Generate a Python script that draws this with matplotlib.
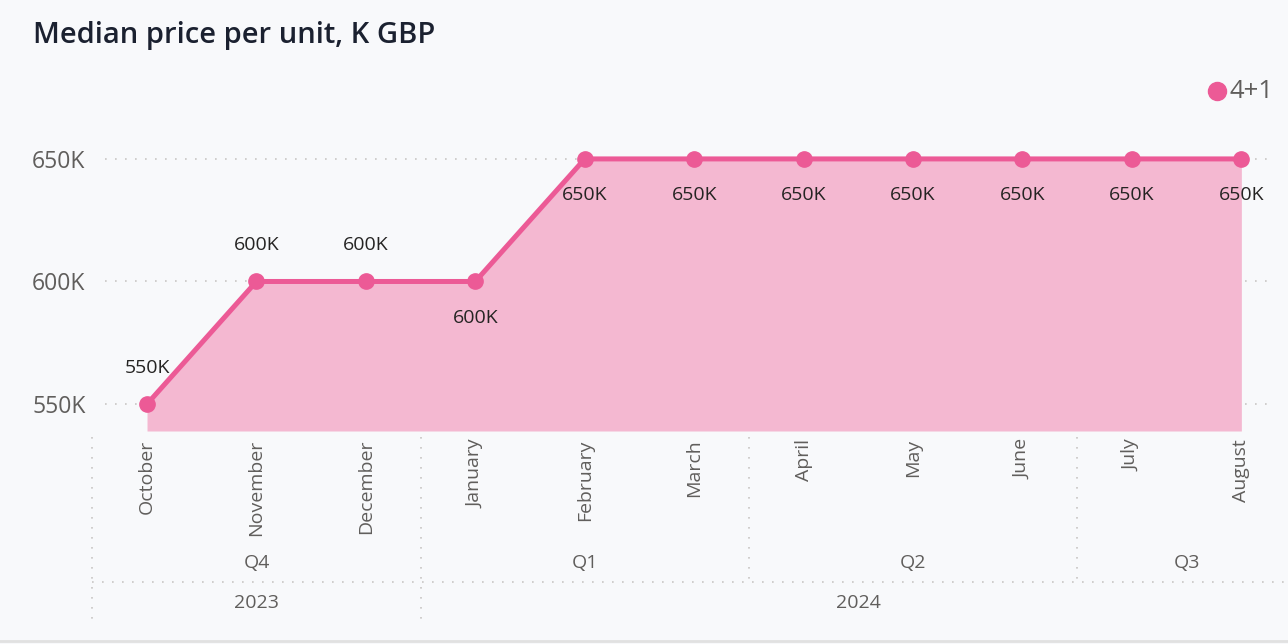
"""Median price per unit line/area chart with a month / quarter / year axis."""

import matplotlib.pyplot as plt
import numpy as np
from matplotlib.lines import Line2D

plt.rcParams["font.family"] = ["Open Sans", "DejaVu Sans"]

months = ["October", "November", "December", "January", "February", "March",
          "April", "May", "June", "July", "August"]
prices = [550, 600, 600, 600, 650, 650, 650, 650, 650, 650, 650]  # K GBP
label_above = [True, True, True, False, False, False, False, False, False, False, False]

quarters = ["Q4", "Q1", "Q2", "Q3"]
quarter_spans = [(0, 2), (3, 5), (6, 8), (9, 10)]  # month index ranges
years = ["2023", "2024"]
year_spans = [(0, 2), (3, 10)]

y_ticks = [550, 600, 650]
series_name = "4+1"

LINE = "#EC5A96"
FILL = "#F4B8D1"
BG = "#F8F9FB"
TICK = "#605E5C"
GRID = "#C8C6C4"

W, H = 1288, 644
fig = plt.figure(figsize=(W / 100, H / 100), dpi=100, facecolor=BG)


def fx(px):
    return px / W


def fy(py):
    return 1 - py / H


# axes spans pixel 105..1272 horizontally, 130..431 vertically
ax = fig.add_axes([fx(105), fy(431), fx(1272 - 105), (431 - 130) / H])
ax.set_facecolor(BG)

x = np.arange(len(months))
y = np.array(prices)
ymin, ymax = 539, 661.8
ax.set_xlim(-0.384, 10.28)
ax.set_ylim(ymin, ymax)

ax.fill_between(x, y, ymin, color=FILL, lw=0, zorder=1)
ax.plot(x, y, color=LINE, lw=3.6, marker="o", ms=11, zorder=3, clip_on=False)

for xi, yi, above in zip(x, y, label_above):
    ax.annotate(f"{yi}K", (xi, yi), xytext=(0, 26 if above else -26),
                textcoords="offset points", ha="center", va="center",
                fontsize=14, color="#252423", zorder=4)

ax.set_yticks(y_ticks)
ax.set_yticklabels([f"{t}K" for t in y_ticks], fontsize=16.5, color=TICK)
ax.tick_params(axis="y", length=0, pad=14)
ax.grid(axis="y", linestyle=(0, (1, 5)), color=GRID, lw=1.2)
ax.set_axisbelow(True)
for s in ax.spines.values():
    s.set_visible(False)

ax.set_xticks(x)
ax.set_xticklabels(months, rotation=90, fontsize=14, color=TICK, va="top", ha="center")
ax.tick_params(axis="x", length=0, pad=6)

# hierarchy axis (quarters and years) drawn in data x / figure y
trans = ax.get_xaxis_transform()
to_ax = lambda py: (431 - py) / (431 - 130)  # pixel y -> axes fraction

dot = dict(color=GRID, lw=1.2, linestyle=(0, (1, 5)), clip_on=False)
for xs in (2.5, 5.5, 8.5):
    y_bot = 625 if xs == 2.5 else 582
    ax.add_line(Line2D([xs, xs], [to_ax(437), to_ax(y_bot)], transform=trans, **dot))
ax.add_line(Line2D([-0.5, -0.5], [to_ax(437), to_ax(625)], transform=trans, **dot))
ax.add_line(Line2D([-0.5, 11.0], [to_ax(582), to_ax(582)], transform=trans, **dot))

for name, (a, b) in zip(quarters, quarter_spans):
    ax.text((a + b) / 2, to_ax(563), name, transform=trans, ha="center", va="center",
            fontsize=14, color=TICK)
for name, (a, b) in zip(years, year_spans):
    ax.text((a + b) / 2, to_ax(603), name, transform=trans, ha="center", va="center",
            fontsize=14, color=TICK)

# title and legend
fig.text(fx(33), fy(35), "Median price per unit, K GBP", fontsize=21, fontweight="semibold",
         color="#1B2130", ha="left", va="center")
fig.add_artist(Line2D([fx(1217)], [fy(91)], marker="o", ms=13, color=LINE, lw=0))
fig.text(fx(1229), fy(91), series_name, fontsize=18.5, color=TICK, ha="left", va="center")

# bottom border
fig.add_artist(Line2D([0, 1], [fy(641), fy(641)], color="#E1E1E1", lw=2))

fig.savefig("out.png", dpi=100, facecolor=BG)
